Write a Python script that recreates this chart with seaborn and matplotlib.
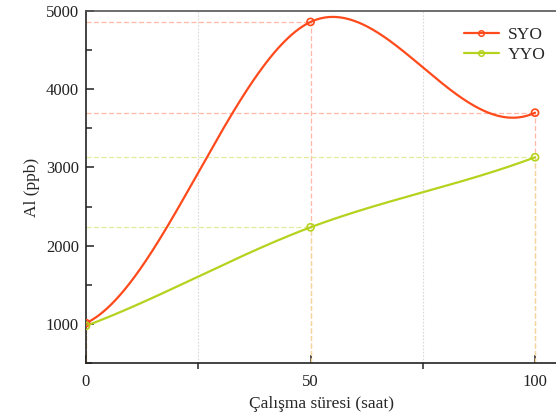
import numpy as np
import pandas as pd
import matplotlib
matplotlib.use('Agg')
import matplotlib.pyplot as plt
from matplotlib.ticker import MultipleLocator
from matplotlib.lines import Line2D
import seaborn as sns

# data
hours = [0, 50, 100]
syo = [1010, 4860, 3700]
yyo = [975, 2235, 3130]
series_names = ['SYO', 'YYO']
series_colors = ['#FF4A1C', '#B5D21E']
# drop line colours (horizontal, vertical)
drop_colors = [('#FFB9A6', '#FFB9A6'), ('#E2EB9C', '#F2D898')]

sns.set_theme(style='ticks')
plt.rcParams['font.family'] = ['Liberation Serif', 'DejaVu Serif']


def smooth_curve(x, y, n=200):
    # cubic hermite through the points, central-difference tangents
    x = np.asarray(x, float)
    y = np.asarray(y, float)
    m = np.gradient(y, x)
    m[0] = m[1]
    m[-1] = m[-2]
    xs, ys = [], []
    t = np.linspace(0, 1, n)
    h00 = 2 * t**3 - 3 * t**2 + 1
    h10 = t**3 - 2 * t**2 + t
    h01 = -2 * t**3 + 3 * t**2
    h11 = t**3 - t**2
    for i in range(len(x) - 1):
        h = x[i + 1] - x[i]
        xs.append(x[i] + t * h)
        ys.append(h00 * y[i] + h10 * h * m[i] + h01 * y[i + 1] + h11 * h * m[i + 1])
    return np.concatenate(xs), np.concatenate(ys)


fig = plt.figure(figsize=(5.56, 4.2), dpi=100)
ax = fig.add_axes([86 / 556, 57 / 420, 471.5 / 556, 352 / 420])
ax.set_xlim(0, 105)
ax.set_ylim(500, 5000)

# grid at minor x ticks
for xv in [25, 75]:
    ax.axvline(xv, color='#d9d9d9', lw=0.8, ls=(0, (1.5, 1.5)), zorder=0)

# drop lines from each point
for vals, (hc, vc) in zip([syo, yyo], drop_colors):
    for xv, yv in zip(hours, vals):
        ax.plot([0, xv], [yv, yv], color=hc, lw=0.9, ls=(0, (4, 2)), zorder=1)
        ax.plot([xv, xv], [500, yv], color=vc, lw=0.9, ls=(0, (4, 2)), zorder=1)

handles = []
for name, vals, col in zip(series_names, [syo, yyo], series_colors):
    xs, ys = smooth_curve(hours, vals)
    df = pd.DataFrame({'x': xs, 'y': ys})
    sns.lineplot(data=df, x='x', y='y', ax=ax, color=col, lw=1.6, sort=False,
                 estimator=None, zorder=3)
    pts = pd.DataFrame({'x': hours, 'y': vals})
    sns.scatterplot(data=pts, x='x', y='y', ax=ax, s=26, facecolor='none',
                    edgecolor=col, linewidth=1.2, zorder=4)
    handles.append(Line2D([], [], color=col, lw=1.6, marker='o', markersize=4,
                          markerfacecolor='none', markeredgecolor=col, markeredgewidth=1.1))

ax.legend(handles, series_names, loc='upper right', frameon=False, fontsize=12.5,
          handlelength=2.0, handletextpad=0.5, labelspacing=0.25,
          borderaxespad=0.3, bbox_to_anchor=(1.0, 0.99))

ax.xaxis.set_major_locator(MultipleLocator(50))
ax.xaxis.set_minor_locator(MultipleLocator(25))
ax.yaxis.set_major_locator(MultipleLocator(1000))
ax.yaxis.set_minor_locator(MultipleLocator(500))
ax.tick_params(which='major', direction='in', length=6, width=1.1, labelsize=12,
               colors='#222222', pad=5)
ax.tick_params(axis='x', which='minor', direction='out', length=4, width=1.1)
ax.tick_params(axis='y', which='minor', direction='in', length=4, width=1.1)
ax.tick_params(axis='x', which='major', pad=8)

for side in ['left', 'bottom', 'top']:
    ax.spines[side].set_linewidth(1.2)
    ax.spines[side].set_color('#222222')
ax.spines['top'].set_color('#555555')
ax.spines['right'].set_visible(False)

ax.set_xlabel('Çalışma süresi (saat)', fontsize=12.5, labelpad=4)
ax.set_ylabel('Al (ppb)', fontsize=12.5, labelpad=4)

fig.savefig('out.png', dpi=100)
